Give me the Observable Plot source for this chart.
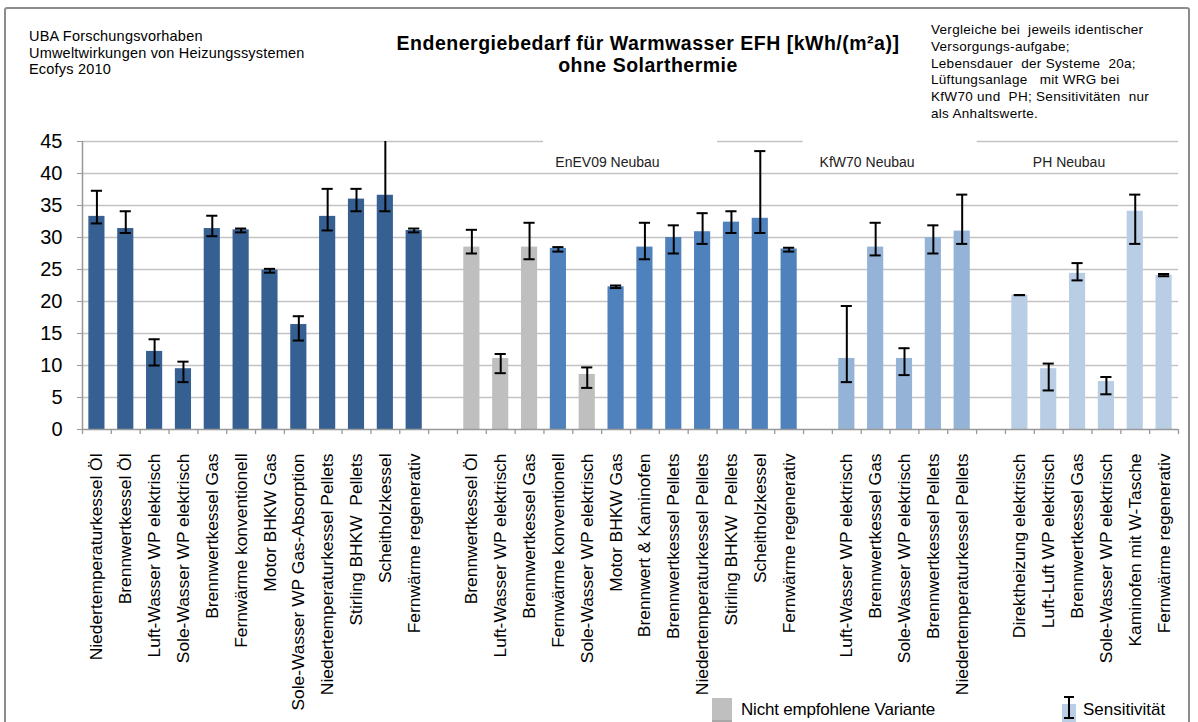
<!DOCTYPE html>
<html><head><meta charset="utf-8">
<script src="https://cdn.jsdelivr.net/npm/d3@7"></script>
<script src="https://cdn.jsdelivr.net/npm/@observablehq/plot@0.6"></script>
<style>
body{margin:0;background:#fff;font-family:"Liberation Sans",Arial,sans-serif;color:#000;}
#wrap{position:relative;width:1198px;height:722px;overflow:hidden;background:#fff;}
#frame{position:absolute;left:4px;top:7px;width:1186px;height:760px;border:2px solid #8c8c8c;border-radius:3px;box-sizing:border-box;}
#hleft{position:absolute;left:29px;top:28px;font-size:14.5px;line-height:16.5px;letter-spacing:0.2px;}
#title{position:absolute;left:298px;width:700px;top:32px;text-align:center;font-weight:bold;font-size:19.5px;line-height:22px;letter-spacing:0.5px;}
#note{position:absolute;left:931px;top:22px;font-size:13.5px;line-height:16.8px;letter-spacing:0.3px;white-space:pre;}
#plot{position:absolute;left:0;top:0;}
#leg1{position:absolute;left:712px;top:698px;width:20px;height:22px;background:#bfbfbf;border-bottom:2px solid #a8a8a8;}
#leg1t{position:absolute;left:741px;top:700px;font-size:17px;letter-spacing:-0.2px;}
#leg2{position:absolute;left:1058px;top:692px;}
#leg2t{position:absolute;left:1083px;top:700px;font-size:17px;}
</style></head>
<body>
<div id="wrap">
  <div id="frame"></div>
  <div id="hleft">UBA Forschungsvorhaben<br>Umweltwirkungen von Heizungssystemen<br>Ecofys 2010</div>
  <div id="title">Endenergiebedarf für Warmwasser EFH [kWh/(m²a)]<br>ohne Solarthermie</div>
  <div id="note">Vergleiche bei  jeweils identischer
Versorgungs-aufgabe;
Lebensdauer  der Systeme  20a;
Lüftungsanlage   mit WRG bei
KfW70 und  PH; Sensitivitäten  nur
als Anhaltswerte.</div>
  <div id="plot"></div>
  <div id="leg1"></div>
  <div id="leg1t">Nicht empfohlene Variante</div>
  <svg id="leg2" width="22" height="32"><rect x="4" y="12" width="14" height="20" fill="#b9cde5"/><line x1="11" y1="5" x2="11" y2="26" stroke="#000" stroke-width="2"/><line x1="6" y1="5" x2="16" y2="5" stroke="#000" stroke-width="2"/><line x1="6" y1="26" x2="16" y2="26" stroke="#000" stroke-width="2"/></svg>
  <div id="leg2t">Sensitivität</div>
</div>
<script>
// ---- data ----
const groupLabels = ["", "EnEV09 Neubau", "KfW70 Neubau", "PH Neubau"];
const groupColors = ["#376092", "#4f81bd", "#95b3d7", "#b9cde5"];
const grayColor = "#bfbfbf";

const names1 = ["Niedertemperaturkessel Öl","Brennwertkessel Öl","Luft-Wasser WP elektrisch","Sole-Wasser WP elektrisch","Brennwertkessel Gas","Fernwärme konventionell","Motor BHKW Gas","Sole-Wasser WP Gas-Absorption","Niedertemperaturkessel Pellets","Stirling BHKW  Pellets","Scheitholzkessel","Fernwärme regenerativ"];
const vals1 = [33.3,31.4,12.2,9.5,31.4,31.2,24.9,16.4,33.3,36.0,36.6,31.1];
const lo1   = [32.2,30.7,10.0,7.4,30.2,30.8,24.5,13.9,31.1,34.1,34.1,30.8];
const hi1   = [37.3,34.1,14.1,10.6,33.4,31.4,25.1,17.7,37.6,37.6,47.0,31.4];
const notRec1 = [0,0,0,0,0,0,0,0,0,0,0,0];

const names2 = ["Brennwertkessel Öl","Luft-Wasser WP elektrisch","Brennwertkessel Gas","Fernwärme konventionell","Sole-Wasser WP elektrisch","Motor BHKW Gas","Brennwert & Kaminofen","Brennwertkessel Pellets","Niedertemperaturkessel Pellets","Stirling BHKW  Pellets","Scheitholzkessel","Fernwärme regenerativ"];
const vals2 = [28.5,11.1,28.5,28.3,8.6,22.3,28.5,30.0,30.9,32.4,33.0,28.2];
const lo2   = [27.5,8.8,26.6,27.8,6.5,22.1,26.6,27.5,29.0,30.7,30.7,27.8];
const hi2   = [31.2,11.8,32.3,28.5,9.7,22.5,32.3,31.9,33.8,34.1,43.5,28.4];
const notRec2 = [1,1,1,0,1,0,0,0,0,0,0,0];

const names3 = ["Luft-Wasser WP elektrisch","Brennwertkessel Gas","Sole-Wasser WP elektrisch","Brennwertkessel Pellets","Niedertemperaturkessel Pellets"];
const vals3 = [11.1,28.5,11.1,30.0,31.0];
const lo3   = [7.4,27.2,8.5,27.5,29.0];
const hi3   = [19.3,32.3,12.7,31.9,36.7];
const notRec3 = [0,0,0,0,0];

const names4 = ["Direktheizung elektrisch","Luft-Luft WP elektrisch","Brennwertkessel Gas","Sole-Wasser WP elektrisch","Kaminofen mit W-Tasche","Fernwärme regenerativ"];
const vals4 = [21.0,9.5,24.4,7.5,34.1,24.1];
const lo4   = [21.0,6.1,23.3,5.5,29.0,23.95];
const hi4   = [21.0,10.3,26.0,8.2,36.7,24.3];
const notRec4 = [0,0,0,0,0,0];

const yTicks = [0,5,10,15,20,25,30,35,40,45];

// ---- build ----
const groups = [
  [names1, vals1, lo1, hi1, notRec1],
  [names2, vals2, lo2, hi2, notRec2],
  [names3, vals3, lo3, hi3, notRec3],
  [names4, vals4, lo4, hi4, notRec4]
];
const rows = [];
const domain = [];
const labelOf = {};
groups.forEach(([n, v, lo, hi, nr], g) => {
  if (g > 0) domain.push("sp" + g);
  n.forEach((name, i) => {
    const key = g + "-" + i;
    domain.push(key);
    labelOf[key] = name;
    rows.push({key, name, v: v[i], lo: lo[i], hi: hi[i], fill: nr[i] ? grayColor : groupColors[g]});
  });
});

const W = 1198, H = 722, ML = 82, MR = 20, MT = 141, MB = 293;
const step = (W - ML - MR) / domain.length;
const bandInner = 0.44;

// keys behind the group-label boxes (white gaps in the top gridline)
const coverKeys = [...domain.slice(16, 22), ...domain.slice(25, 31)];
const groupLabelRows = [
  {key: "1-5", t: groupLabels[1], dx: -10},
  {key: "2-1", t: groupLabels[2], dx: -2},
  {key: "3-2", t: groupLabels[3], dx: -8}
];

const chart = Plot.plot({
  width: W, height: H,
  marginLeft: ML, marginRight: MR, marginTop: MT, marginBottom: MB,
  style: {fontFamily: "'Liberation Sans', Arial, sans-serif", color: "#000", background: "transparent", overflow: "visible"},
  x: {domain, paddingInner: bandInner, paddingOuter: bandInner / 2, round: false},
  y: {domain: [0, 45]},
  marks: [
    Plot.ruleY(yTicks.filter(d => d > 0), {stroke: "#c3c3c3", strokeWidth: 1.6}),
    Plot.tickY(coverKeys, {x: d => d, y: () => 45, stroke: "#fff", strokeWidth: 4,
      insetLeft: -(step * bandInner) / 2 - 0.5, insetRight: -(step * bandInner) / 2 - 0.5}),
    Plot.ruleX([domain[0]], {x: d => d, dx: -step / 2, y1: 0, y2: 45, stroke: "#999", strokeWidth: 1.5}),
    Plot.barY(rows, {x: "key", y: "v", fill: "fill"}),
    Plot.ruleX(rows, {x: "key", y1: "lo", y2: "hi", stroke: "#000", strokeWidth: 2, clip: true}),
    Plot.tickY(rows, {x: "key", y: "lo", stroke: "#000", strokeWidth: 2, insetLeft: 2.5, insetRight: 2.5, clip: true}),
    Plot.tickY(rows, {x: "key", y: "hi", stroke: "#000", strokeWidth: 2, insetLeft: 2.5, insetRight: 2.5, clip: true}),
    Plot.ruleY([0], {stroke: "#999", strokeWidth: 1.5}),
    Plot.ruleX(domain, {x: d => d, dx: -step / 2, y1: 0, y2: -0.8, stroke: "#999", strokeWidth: 1.3}),
    Plot.ruleX([domain[domain.length - 1]], {x: d => d, dx: step / 2, y1: 0, y2: -0.8, stroke: "#999", strokeWidth: 1.3}),
    Plot.axisY({ticks: yTicks, tickSize: 5, tickPadding: 15, fontSize: 20, stroke: "#999", tickFormat: d => String(d)}),
    Plot.axisX({tickRotate: -90, tickSize: 0, tickPadding: 24, fontSize: 17.4, tickFormat: k => labelOf[k] ?? "", label: null}),
    Plot.text(groupLabelRows, {x: "key", y: () => 41.7, text: "t", dx: "dx", fontSize: 14, fill: "#222"})
  ]
});
document.getElementById("plot").append(chart);
</script>
</body></html>
